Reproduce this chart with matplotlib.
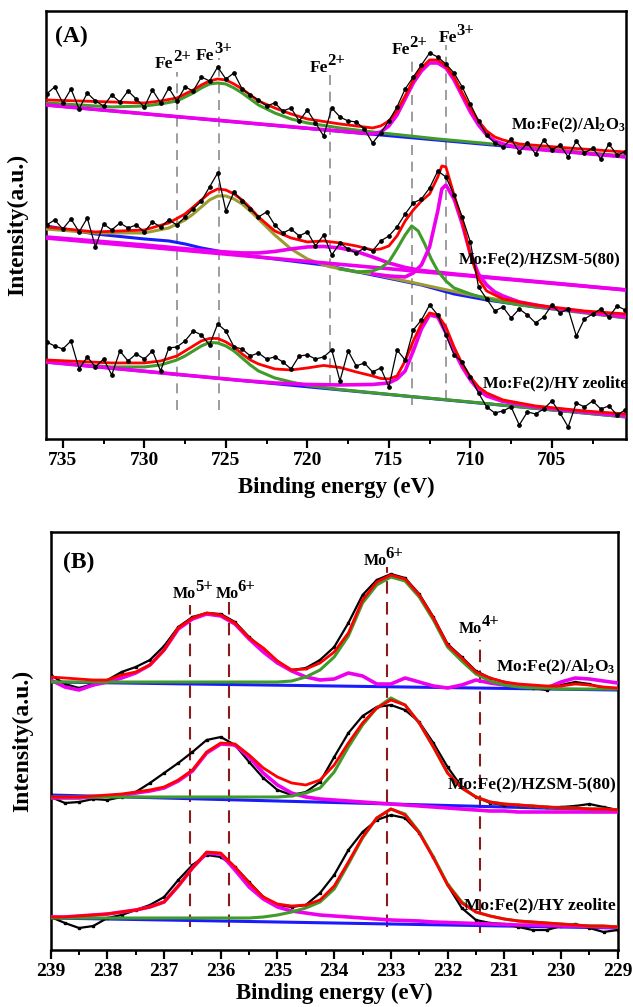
import numpy as np
import matplotlib
matplotlib.use('Agg')
import matplotlib.pyplot as plt
from matplotlib.ticker import MultipleLocator

plt.rcParams['font.family'] = ['Liberation Serif', 'DejaVu Serif']
plt.rcParams['font.weight'] = 'bold'
plt.rcParams['mathtext.fontset'] = 'custom'
plt.rcParams['mathtext.rm'] = 'Liberation Serif:bold'
plt.rcParams['mathtext.it'] = 'Liberation Serif:bold'
plt.rcParams['mathtext.bf'] = 'Liberation Serif:bold'

RED = '#ff0000'
MAG = '#ee00ee'
GRN = '#3f9b2a'
OLV = '#9c9c30'
BLU = '#1a1aff'

# ---------------- (A) Fe 2p ----------------
# raw spectra, 736.0 -> 700.5 eV in 0.5 eV steps
feE = np.linspace(736.0, 700.5, 72)
fe_al_raw = [345, 352, 336, 350, 330, 346, 338, 333,
             344, 337, 348, 340, 332, 349, 336, 351,
             338, 352, 348, 362, 358, 372, 360, 366,
             350, 344, 339, 333, 336, 328, 331, 318,
             329, 316, 303, 331, 322, 318, 317, 310,
             296, 306, 318, 332, 350, 362, 374, 386,
             382, 375, 366, 352, 335, 318, 304, 296,
             292, 300, 287, 296, 285, 299, 289, 294,
             282, 298, 286, 291, 280, 295, 284, 287]
fe_hz_raw = [214, 219, 210, 220, 207, 221, 192, 215,
             209, 216, 211, 214, 207, 217, 212, 219,
             214, 222, 230, 238, 252, 266, 228, 247,
             238, 230, 222, 227, 214, 206, 210, 203,
             207, 193, 204, 184, 196, 190, 186, 191,
             188, 198, 203, 212, 225, 236, 240, 251,
             268, 262, 244, 222, 197, 152, 140, 128,
             132, 121, 130, 124, 116, 122, 134, 126,
             130, 103, 120, 125, 130, 122, 133, 129]
fe_hy_raw = [97, 93, 90, 98, 70, 82, 72, 80,
             64, 88, 78, 85, 80, 88, 68, 91,
             92, 98, 108, 104, 94, 115, 108, 92,
             90, 83, 86, 80, 82, 77, 70, 83,
             84, 80, 82, 89, 58, 88, 73, 76,
             67, 71, 52, 89, 79, 109, 119, 134,
             124, 104, 84, 77, 62, 46, 32, 26,
             28, 32, 14, 27, 25, 30, 38, 26,
             12, 36, 32, 38, 30, 33, 24, 29]

# Mo:Fe(2)/Al2O3 fit
al_base_E = [736.05, 700.45]
al_base = [334, 282]
al_g_E = [736, 732, 730, 729, 728, 727.5, 727, 726.5, 726, 725.5, 725, 724.5,
          724, 723.5, 723, 722, 721, 720, 718, 716, 712, 708, 704, 700.5]
al_g = [336, 332, 333, 335, 338, 342, 346, 351, 355, 356, 355, 351,
        346, 340, 334, 326, 320, 316, 311, 307, 300, 294, 288, 283]
al_m_E = [736.05, 716, 715.5, 715, 714.5, 714, 713.5, 713, 712.5, 712, 711.5,
          711, 710.5, 710, 709.5, 709, 708.5, 708, 707, 704, 700.45]
al_m = [334, 305, 307, 313, 324, 340, 356, 368, 376, 376, 371,
        359, 343, 327, 314, 304, 298, 295, 291, 287, 282]
al_fit_E = [736, 732, 730, 729, 728, 727.5, 727, 726.5, 726, 725.5, 725, 724.5, 724,
            723.5, 723, 722, 721, 720, 718, 716, 715.5, 715, 714.5, 714, 713.5, 713,
            712.5, 712, 711.5, 711, 710.5, 710, 709.5, 709, 708.5, 708, 707, 704, 700.5]
al_fit = [339, 337, 336, 338, 341, 345, 349, 354, 358, 360, 359, 355, 350,
          344, 338, 331, 325, 320, 315, 311, 313, 318, 328, 343, 359, 371,
          379, 379, 373, 362, 346, 331, 318, 308, 302, 299, 295, 291, 287]

# Mo:Fe(2)/HZSM-5(80) fit
hz_blue_E = [736.05, 733, 730, 728.5, 727.5, 726.5, 725.5, 724.5, 722, 719,
             716, 713, 711, 709, 706, 703, 700.45]
hz_blue = [213, 205, 200, 198, 195, 191, 188, 185, 180, 174,
           164, 154, 145, 139, 132, 127, 122]
hz_line_E = [736.05, 700.45]
hz_line = [201, 149]
hz_hump_E = [736.05, 730, 726, 724, 723, 722, 721, 720, 719, 718, 717, 716,
             715, 714, 713, 711, 708, 704, 700.45]
hz_hump = [202, 194, 188, 186, 186, 187.5, 190, 192, 192.5, 191, 187.5, 182,
           176, 171.5, 168.5, 165, 160.5, 154.5, 149]
hz_o_E = [736.05, 733, 730, 728.5, 727.5, 727, 726.5, 726, 725.5, 725, 724.5, 724,
          723.5, 723, 722, 721, 720, 719, 718, 716, 714, 712, 710, 707, 704, 700.45]
hz_o = [210, 206, 206, 211, 219, 225, 232, 239, 243, 243, 240, 235,
        228, 220, 204, 190, 180, 174, 170, 165, 158, 151, 144, 136, 129, 121]
hz_g_E = [718, 717, 716, 715.5, 715, 714.5, 714, 713.6, 713.2, 712.8, 712.4,
          712, 711.5, 711, 710, 709, 707, 704, 700.45]
hz_g = [170, 167, 168, 171, 177, 190, 204, 213, 208, 195, 180,
        168, 158, 151, 145, 140, 134, 128, 121]
hz_m_E = [716, 715, 714, 713.5, 713, 712.5, 712, 711.75, 711.5, 711, 710.5, 710,
          709.5, 709, 708.5, 708, 707, 705, 703, 700.45]
hz_m = [165, 163, 162, 166, 174, 192, 228, 250, 254, 240, 215, 185,
        165, 154, 147, 143, 137, 131, 127, 122]
hz_fit_E = [736.05, 733, 730, 728.5, 727.5, 727, 726.5, 726, 725.5, 725, 724.5, 724,
            723.5, 723, 722, 721, 720, 719, 718, 717, 716, 715.5, 715, 714.5, 714,
            713.5, 713, 712.5, 712, 711.75, 711.5, 711, 710.5, 710, 709.5, 709, 708,
            706, 703, 700.45]
hz_fit = [212, 207, 209, 216, 225, 232, 239, 246, 250, 249, 245, 239,
          231, 222, 208, 201, 197, 198, 196, 193, 189, 190, 193, 203, 218,
          229, 238, 245, 262, 273, 272, 244, 218, 184, 160, 148, 140,
          134, 128, 125]

# Mo:Fe(2)/HY zeolite fit
hy_base_E = [736.05, 700.45]
hy_base = [77, 22]
hy_g_E = [736.05, 732, 730, 729, 728, 727.5, 727, 726.5, 726, 725.5, 725, 724.5,
          724, 723.5, 723, 722, 721, 720, 718, 714, 710, 705, 700.45]
hy_g = [77, 72, 72, 74, 79, 83, 88, 93, 96.5, 96, 93, 88,
        81, 74, 68, 61, 57, 53.5, 49.5, 43, 37, 29, 22]
hy_m_E = [736.05, 724, 722, 720, 718, 716, 715, 714.5, 714, 713.5, 713, 712.5,
          712, 711.5, 711, 710.5, 710, 709.5, 709, 708, 706, 703, 700.45]
hy_m = [77, 58.5, 56, 54.5, 54, 54.5, 56, 60, 68, 88, 110, 124,
        122, 106, 88, 72, 59, 49, 43, 37.5, 32, 27, 23]
hy_fit_E = [736.05, 732, 730, 729, 728, 727.5, 727, 726.5, 726, 725.5, 725, 724.5,
            724, 723.5, 723, 722, 721, 720, 719, 718, 717, 716, 715.5, 715, 714.5,
            714, 713.5, 713, 712.5, 712, 711.5, 711, 710.5, 710, 709.5, 709, 708,
            706, 703, 700.45]
hy_fit = [79, 76, 76, 78, 83, 88, 93, 98, 100.5, 100.5, 97, 92,
          85, 79, 75, 70, 69, 71, 73.5, 71.5, 67, 63, 60.5, 60, 63,
          78, 98, 115, 126, 124, 112, 92, 75, 62, 52, 46, 39,
          33, 28, 25]

fe_lines = [728.0, 725.4, 718.6, 713.6, 711.5]
fe_lines_top = [367, 381, 366, 381, 394]
fe_lines_bot = [29, 29, 54, 34, 39]
fe_lab_E = [728.2, 725.7, 718.75, 713.69, 710.81]
fe_lab_h = [371, 379, 367, 385, 397]
fe_lab_sup = ['2+', '3+', '2+', '2+', '3+']

# ---------------- (B) Mo 3d ----------------
moE = np.linspace(239, 229, 41)
mo_al_raw = [275, 266, 262, 266, 270, 278, 283, 290, 304, 323, 333, 337, 336, 328,
             313, 301, 288, 280, 282, 290, 303, 327, 355, 370, 376, 372, 356, 333,
             306, 293, 279, 272, 268, 265, 262, 260, 265, 268, 266, 262, 261]
mo_al_fit = [273, 272, 271, 270, 270, 275, 278, 285, 300, 322, 332, 337, 335, 327,
             312, 302, 289, 280, 281, 287, 298, 317, 350, 368, 375, 371, 355, 332,
             305, 292, 278, 272, 268, 266, 265, 264, 264, 266, 265, 263, 262]
mo_al_m = [270, 263, 260, 265, 268, 272, 277, 285, 300, 321, 331, 336, 334, 326,
           311, 298, 287, 279, 273, 270, 271, 277, 274, 266, 266, 272, 268, 264,
           262, 265, 270, 267, 265, 264, 263, 262, 268, 272, 271, 269, 267]
mo_al_g = [268, 268, 268, 268, 268, 268, 268, 268, 268, 268, 268, 268, 268, 268,
           268, 268, 268, 269, 273, 280, 293, 314, 347, 365, 373, 369, 353, 330,
           303, 289, 276, 269, 265, 263, 262, 262, 261, 261, 261, 261, 261]
mo_al_base = [268, 260]

mo_hz_raw = [153, 147, 148, 151, 150, 153, 158, 167, 177, 187, 198, 210, 213, 205,
             188, 172, 160, 155, 158, 168, 193, 217, 234, 243, 245, 240, 228, 207,
             183, 163, 153, 147, 145, 145, 144, 143, 143, 144, 146, 143, 140]
mo_hz_fit = [153, 153, 153, 154, 155, 156, 158, 160, 163, 170, 180, 198, 207, 206,
             195, 182, 173, 167, 165, 170, 185, 207, 227, 242, 250, 245, 227, 203,
             177, 162, 153, 148, 146, 145, 144, 143, 142, 142, 141, 141, 140]
mo_hz_m = [152, 152, 152, 153, 154, 155, 157, 159, 162, 169, 179, 197, 206, 205,
           193, 177, 165, 157, 153, 151, 150, 149, 148, 147, 146, 145, 144, 143,
           142, 141, 140, 139, 139, 138, 138, 138, 138, 138, 138, 138, 138]
mo_hz_g = [153, 153, 153, 153, 153, 153, 153, 153, 153, 153, 153, 153, 153, 153,
           153, 153, 153, 154, 157, 162, 178, 203, 225, 242, 252, 245, 227, 203,
           177, 162, 153, 148, 146, 145, 144, 143, 142, 142, 141, 141, 140]
mo_hz_base = [155, 140]

mo_hy_raw = [33, 27, 22, 24, 32, 35, 40, 45, 53, 70, 85, 95, 93, 83,
             68, 53, 45, 43, 45, 57, 75, 100, 118, 130, 135, 132, 117, 93,
             65, 42, 30, 27, 26, 23, 20, 20, 24, 26, 22, 18, 20]
mo_hy_fit = [33, 33, 34, 35, 36, 38, 40, 43, 48, 64, 82, 98, 97, 83,
             67, 53, 46, 44, 45, 50, 64, 88, 113, 132, 141, 135, 117, 92,
             65, 47, 38, 34, 31, 29, 28, 27, 26, 25, 24, 24, 23]
mo_hy_m = [33, 33, 34, 35, 36, 38, 40, 43, 48, 64, 82, 97, 96, 80,
           63, 51, 43, 39, 37, 35, 34, 33, 32, 31, 30, 29.5, 29, 28,
           27.5, 27, 26.5, 26, 25.5, 25, 25, 24.5, 24, 24, 23.5, 23, 23]
mo_hy_g = [32, 32, 32, 32, 32, 32, 32, 32, 32, 32, 32, 32, 32, 32,
           32, 33, 35, 38, 42, 48, 61, 86, 112, 132, 141, 136, 118, 93,
           66, 48, 38, 34, 31, 29, 28, 27, 26, 25, 24, 24, 23]
mo_hy_base = [32, 22]

mo_lines = [236.55, 235.85, 233.06, 231.43]
mo_lines_top = [345, 348, 383, 310]
mo_lines_bot = [23, 23, 23, 17]
mo_lab_E = [236.44, 235.69, 233.08, 231.39]
mo_lab_h = [352, 352, 385, 317]
mo_lab_sup = ['5+', '6+', '6+', '4+']


def ion_label(ax, x, y, main, sup, size, supsize):
    ax.annotate(main, (x, y), ha='right', va='baseline', fontsize=size,
                fontweight='bold', zorder=8)
    ax.annotate(sup, (x, y), xytext=(-0.4, 4.8), textcoords='offset points',
                ha='left', va='baseline', fontsize=supsize, fontweight='bold', zorder=8)


def style_axes(ax):
    for s in ax.spines.values():
        s.set_linewidth(1.8)
    ax.tick_params(axis='x', which='major', direction='out', length=6.5, width=1.6,
                   labelsize=14, pad=3)
    ax.tick_params(axis='x', which='minor', direction='out', length=3.5, width=1.4)
    ax.tick_params(axis='y', left=False, labelleft=False)
    for t in ax.get_xticklabels():
        t.set_fontweight('bold')


fig = plt.figure(figsize=(6.33, 10.07), dpi=100)

# ---- panel A ----
axA = fig.add_axes([0.0722, 0.5641, 0.9168, 0.4250])
axA.set_xlim(736.05, 700.45)
axA.set_ylim(0, 428)

for E, lo, hi in zip(fe_lines, fe_lines_bot, fe_lines_top):
    axA.plot([E, E], [lo, hi], color='#8c8c8c', lw=1.2, ls=(0, (6, 4)), zorder=1)

axA.plot(al_base_E, al_base, color=BLU, lw=2.2, zorder=2)
axA.plot(al_g_E, al_g, color=GRN, lw=2.2, zorder=3)
axA.plot(al_m_E, al_m, color=MAG, lw=2.6, zorder=3)
axA.plot(al_fit_E, al_fit, color=RED, lw=2.0, zorder=4)

axA.plot(hz_blue_E, hz_blue, color=BLU, lw=2.2, zorder=2)
axA.plot(hz_o_E, hz_o, color=OLV, lw=2.2, zorder=3)
axA.plot(hz_line_E, hz_line, color=MAG, lw=2.6, zorder=3)
axA.plot(hz_hump_E, hz_hump, color=MAG, lw=2.6, zorder=3)
axA.plot(hz_g_E, hz_g, color=GRN, lw=2.2, zorder=3)
axA.plot(hz_m_E, hz_m, color=MAG, lw=2.6, zorder=3)
axA.plot(hz_fit_E, hz_fit, color=RED, lw=2.0, zorder=4)

axA.plot(hy_base_E, hy_base, color=BLU, lw=2.2, zorder=2)
axA.plot(hy_g_E, hy_g, color=GRN, lw=2.2, zorder=3)
axA.plot(hy_m_E, hy_m, color=MAG, lw=2.6, zorder=3)
axA.plot(hy_fit_E, hy_fit, color=RED, lw=2.0, zorder=4)

for raw in (fe_al_raw, fe_hz_raw, fe_hy_raw):
    axA.plot(feE, raw, color='black', lw=0.9, marker='o', ms=2.4, zorder=5)

for E, h, s in zip(fe_lab_E, fe_lab_h, fe_lab_sup):
    ion_label(axA, E, h, 'Fe', s, 12.5, 12)

axA.text(0.999, 314, r'Mo:Fe(2)/Al$_2$O$_3$', transform=axA.get_yaxis_transform(),
         ha='right', va='center', fontsize=12, fontweight='bold', zorder=8)
axA.text(0.990, 179, 'Mo:Fe(2)/HZSM-5(80)', transform=axA.get_yaxis_transform(),
         ha='right', va='center', fontsize=12, fontweight='bold', zorder=8)
axA.text(1.003, 56, 'Mo:Fe(2)/HY zeolite', transform=axA.get_yaxis_transform(),
         ha='right', va='center', fontsize=12, fontweight='bold', zorder=8)
axA.text(0.016, 0.965, '(A)', transform=axA.transAxes, ha='left', va='top',
         fontsize=17, fontweight='bold')

axA.xaxis.set_major_locator(MultipleLocator(5))
axA.xaxis.set_minor_locator(MultipleLocator(2.5))
style_axes(axA)
axA.set_xlabel('Binding energy (eV)', fontsize=16.5, fontweight='bold')
axA.set_ylabel('Intensity(a.u.)', fontsize=17, fontweight='bold')
axA.xaxis.set_label_coords(0.5, -0.088)
axA.yaxis.set_label_coords(-0.03, 0.5)

# ---- panel B ----
axB = fig.add_axes([0.0801, 0.0566, 0.8957, 0.4151])
axB.set_xlim(239, 229)
axB.set_ylim(0, 418)

for E, lo, hi in zip(mo_lines, mo_lines_bot, mo_lines_top):
    axB.plot([E, E], [lo, hi], color='#8b1a1a', lw=1.5, ls=(0, (6, 4)), zorder=1)

for base, g, m, fit, raw in ((mo_al_base, mo_al_g, mo_al_m, mo_al_fit, mo_al_raw),
                             (mo_hz_base, mo_hz_g, mo_hz_m, mo_hz_fit, mo_hz_raw),
                             (mo_hy_base, mo_hy_g, mo_hy_m, mo_hy_fit, mo_hy_raw)):
    axB.plot([239, 229], base, color=BLU, lw=2.2, zorder=2)
    axB.plot(moE, raw, color='black', lw=1.6, marker='s', ms=1.8, zorder=3)
    axB.plot(moE, m, color=MAG, lw=2.6, zorder=4)
    axB.plot(moE, g, color=GRN, lw=2.2, zorder=4)
    axB.plot(moE, fit, color=RED, lw=2.0, zorder=5)

for E, h, s in zip(mo_lab_E, mo_lab_h, mo_lab_sup):
    ion_label(axB, E, h, 'Mo', s, 11.5, 12)

axB.text(0.997, 283, r'Mo:Fe(2)/Al$_2$O$_3$', transform=axB.get_yaxis_transform(),
         ha='right', va='center', fontsize=12.5, fontweight='bold', zorder=8)
axB.text(0.997, 165, 'Mo:Fe(2)/HZSM-5(80)', transform=axB.get_yaxis_transform(),
         ha='right', va='center', fontsize=12.5, fontweight='bold', zorder=8)
axB.text(0.997, 45, 'Mo:Fe(2)/HY zeolite', transform=axB.get_yaxis_transform(),
         ha='right', va='center', fontsize=12.5, fontweight='bold', zorder=8)
axB.text(0.022, 0.952, '(B)', transform=axB.transAxes, ha='left', va='top',
         fontsize=17, fontweight='bold')

axB.xaxis.set_major_locator(MultipleLocator(1))
axB.xaxis.set_minor_locator(MultipleLocator(0.5))
style_axes(axB)
axB.set_xlabel('Binding energy (eV)', fontsize=16.5, fontweight='bold')
axB.set_ylabel('Intensity(a.u.)', fontsize=17, fontweight='bold')
axB.xaxis.set_label_coords(0.5, -0.079)
axB.yaxis.set_label_coords(-0.031, 0.5)

fig.savefig('out.png', dpi=100)
